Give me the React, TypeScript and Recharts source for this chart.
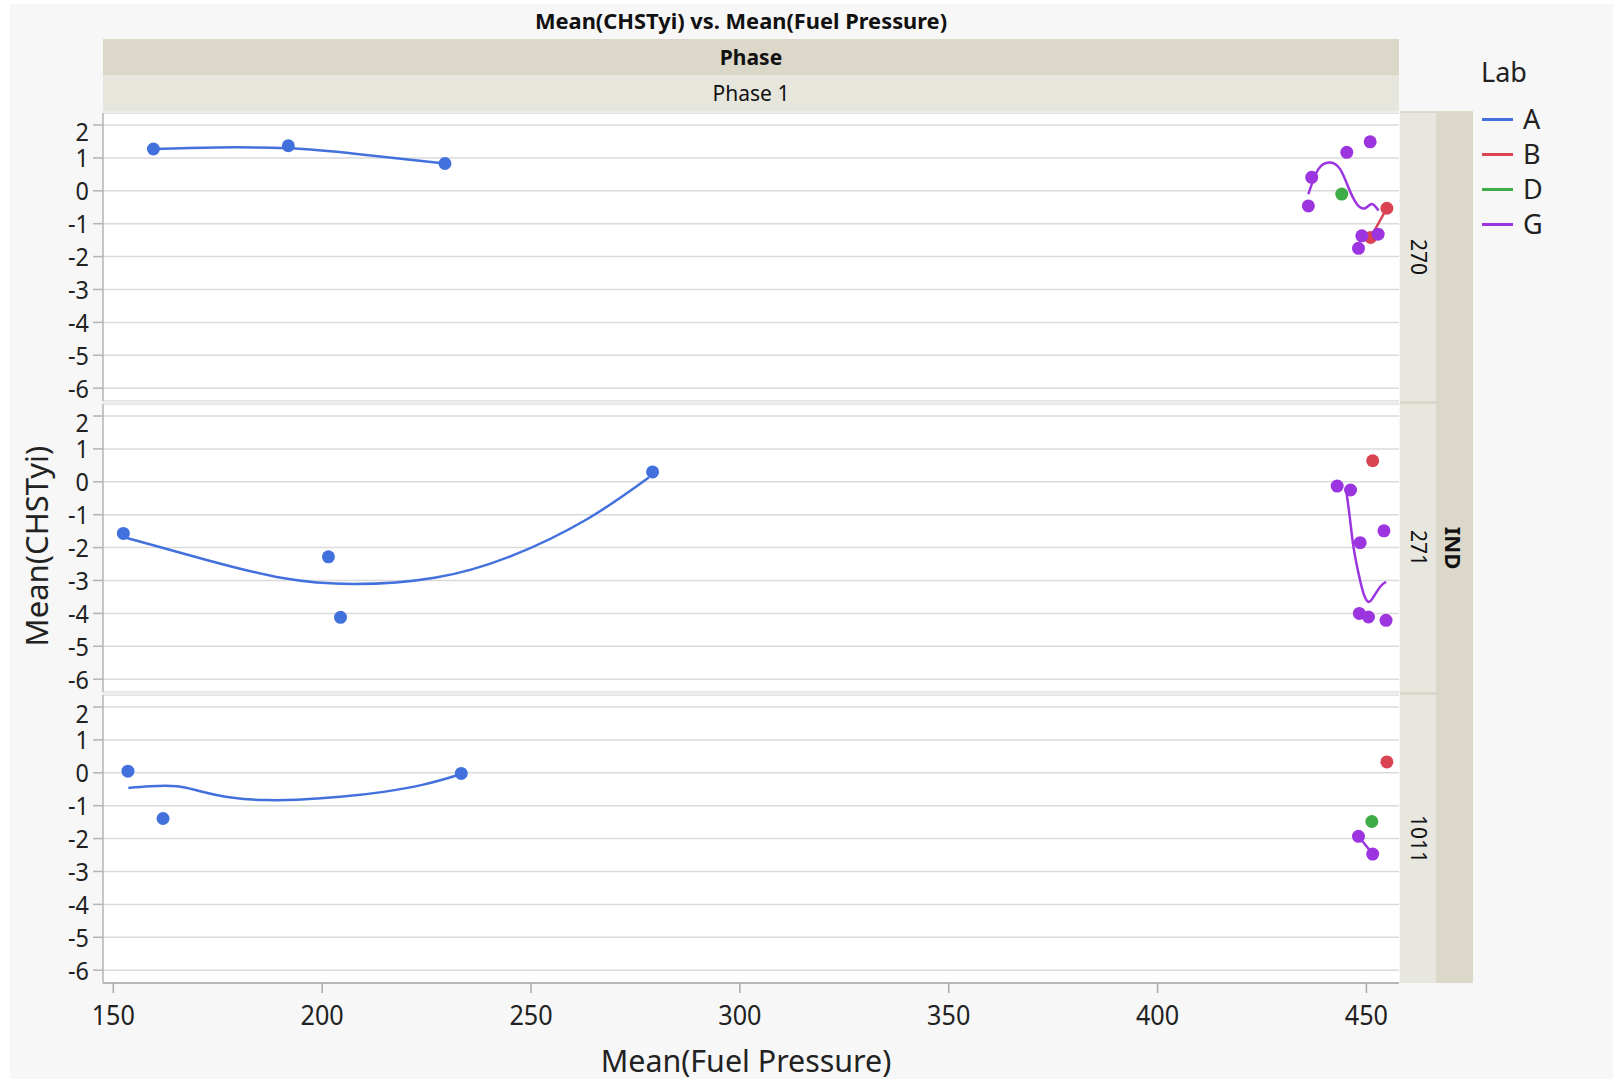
import React from 'react';
import { ComposedChart, Line, Scatter, XAxis, YAxis, CartesianGrid } from 'recharts';

type Pt = { x: number; y: number };

const FONT = "'Noto Sans', 'Open Sans', sans-serif";

const labs = ['A', 'B', 'D', 'G'];
const labColors: Record<string, string> = {
  A: '#4270dd',
  B: '#da4452',
  D: '#3eac47',
  G: '#9c34df',
};

const xTicks = [150, 200, 250, 300, 350, 400, 450];
const yTicks = [-6, -5, -4, -3, -2, -1, 0, 1, 2];
const xDomain: [number, number] = [147.53, 457.8];
const yDomain: [number, number] = [-6.39, 2.365];

const indLevels = ['270', '271', '1011'];

// IND 270
const ind270A: Pt[] = [{ x: 159.6, y: 1.27 }, { x: 191.9, y: 1.37 }, { x: 229.4, y: 0.83 }];
const ind270B: Pt[] = [{ x: 451.0, y: -1.42 }, { x: 454.9, y: -0.53 }];
const ind270D: Pt[] = [{ x: 444.1, y: -0.1 }];
const ind270G: Pt[] = [
  { x: 436.1, y: -0.46 }, { x: 436.9, y: 0.41 }, { x: 445.3, y: 1.17 }, { x: 450.9, y: 1.49 },
  { x: 448.9, y: -1.37 }, { x: 448.1, y: -1.75 }, { x: 452.8, y: -1.32 },
];
const ind270ASmooth: Pt[] = [
  { x: 159.6, y: 1.27 }, { x: 174.8, y: 1.32 }, { x: 191.9, y: 1.29 }, { x: 208.3, y: 1.12 }, { x: 229.4, y: 0.83 },
];
const ind270GSmooth: Pt[] = [
  { x: 436.1, y: -0.1 }, { x: 438.5, y: 0.66 }, { x: 441.3, y: 0.86 }, { x: 443.7, y: 0.66 }, { x: 445.7, y: 0.1 },
  { x: 447.7, y: -0.4 }, { x: 449.7, y: -0.53 }, { x: 451.3, y: -0.4 }, { x: 452.9, y: -0.6 },
];

// IND 271
const ind271A: Pt[] = [{ x: 152.4, y: -1.57 }, { x: 201.5, y: -2.28 }, { x: 204.4, y: -4.12 }, { x: 279.1, y: 0.3 }];
const ind271B: Pt[] = [{ x: 451.5, y: 0.64 }];
const ind271G: Pt[] = [
  { x: 443.0, y: -0.13 }, { x: 446.2, y: -0.25 }, { x: 448.5, y: -1.85 }, { x: 454.2, y: -1.49 },
  { x: 448.3, y: -4.0 }, { x: 450.5, y: -4.11 }, { x: 454.7, y: -4.21 },
];
const ind271ASmooth: Pt[] = [
  { x: 152.4, y: -1.68 }, { x: 171.9, y: -2.36 }, { x: 190.2, y: -2.92 }, { x: 207.6, y: -3.11 },
  { x: 226.9, y: -2.92 }, { x: 245.2, y: -2.26 }, { x: 263.5, y: -1.13 }, { x: 278.2, y: 0.13 },
];
const ind271GSmooth: Pt[] = [
  { x: 445.2, y: -0.3 }, { x: 446.0, y: -1.06 }, { x: 446.9, y: -1.98 }, { x: 448.1, y: -2.78 }, { x: 449.3, y: -3.39 },
  { x: 450.5, y: -3.65 }, { x: 451.7, y: -3.5 }, { x: 453.3, y: -3.19 }, { x: 454.7, y: -3.04 },
];

// IND 1011
const ind1011A: Pt[] = [{ x: 153.5, y: 0.05 }, { x: 161.9, y: -1.39 }, { x: 233.3, y: -0.02 }];
const ind1011B: Pt[] = [{ x: 454.9, y: 0.33 }];
const ind1011D: Pt[] = [{ x: 451.3, y: -1.48 }];
const ind1011G: Pt[] = [{ x: 448.1, y: -1.93 }, { x: 451.5, y: -2.47 }];
const ind1011ASmooth: Pt[] = [
  { x: 153.6, y: -0.46 }, { x: 158.8, y: -0.41 }, { x: 165.2, y: -0.41 }, { x: 170.8, y: -0.56 },
  { x: 178.7, y: -0.76 }, { x: 186.7, y: -0.83 }, { x: 193.9, y: -0.82 }, { x: 204.3, y: -0.73 },
  { x: 214.7, y: -0.58 }, { x: 224.2, y: -0.36 }, { x: 233.0, y: -0.05 },
];

type Series = { lab: string; data: Pt[] };
type Curve = { lab: string; data: Pt[]; type: 'natural' | 'linear' };

const panels: { points: Series[]; curves: Curve[] }[] = [
  {
    points: [
      { lab: 'A', data: ind270A }, { lab: 'B', data: ind270B }, { lab: 'D', data: ind270D }, { lab: 'G', data: ind270G },
    ],
    curves: [
      { lab: 'A', data: ind270ASmooth, type: 'natural' },
      { lab: 'B', data: ind270B, type: 'linear' },
      { lab: 'G', data: ind270GSmooth, type: 'natural' },
    ],
  },
  {
    points: [{ lab: 'A', data: ind271A }, { lab: 'B', data: ind271B }, { lab: 'G', data: ind271G }],
    curves: [
      { lab: 'A', data: ind271ASmooth, type: 'natural' },
      { lab: 'G', data: ind271GSmooth, type: 'natural' },
    ],
  },
  {
    points: [
      { lab: 'A', data: ind1011A }, { lab: 'B', data: ind1011B }, { lab: 'D', data: ind1011D }, { lab: 'G', data: ind1011G },
    ],
    curves: [
      { lab: 'A', data: ind1011ASmooth, type: 'natural' },
      { lab: 'G', data: ind1011G, type: 'linear' },
    ],
  },
];

// layout
const PLOT_LEFT = 103;
const PLOT_RIGHT = 1399;
const PANEL_H = 288;
const panelTops = [113, 404, 695];
const X_AXIS_H = 50;

const YTick = (props: any) => {
  const { x, y, payload } = props;
  const shift = payload.value === 2 ? 7 : 0;
  return (
    <g transform={`translate(${x},${y + shift})`}>
      <text transform="scale(0.9,1)" textAnchor="end" dy="0.36em" fontSize={26} fill="#222" fontFamily={FONT}>
        {payload.value}
      </text>
    </g>
  );
};

const XTick = (props: any) => {
  const { x, y, payload } = props;
  return (
    <g transform={`translate(${x},${y})`}>
      <text transform="scale(0.9,1)" textAnchor="middle" dy={32} fontSize={28} fill="#222" fontFamily={FONT}>
        {payload.value}
      </text>
    </g>
  );
};

const Label = ({ cx, cy, size, weight = 400, rotate = 0, sx = 1, color = '#111', children }: any) => (
  <div
    style={{
      position: 'absolute',
      left: cx,
      top: cy,
      transform: `translate(-50%, -50%) rotate(${rotate}deg) scaleX(${sx})`,
      fontFamily: FONT,
      fontSize: size,
      fontWeight: weight,
      lineHeight: 1,
      whiteSpace: 'nowrap',
      color,
    }}
  >
    {children}
  </div>
);

const Panel = ({ index }: { index: number }) => {
  const { points, curves } = panels[index];
  const showX = index === panels.length - 1;
  return (
    <div style={{ position: 'absolute', left: 0, top: panelTops[index] }}>
      <ComposedChart
        width={PLOT_RIGHT}
        height={PANEL_H + (showX ? X_AXIS_H : 0)}
        margin={{ top: 0, right: 0, bottom: 0, left: 0 }}
        style={{ overflow: 'visible' }}
      >
        <CartesianGrid vertical={false} stroke="#dadada" strokeWidth={1.5} />
        <XAxis
          type="number"
          dataKey="x"
          domain={xDomain}
          ticks={xTicks}
          allowDataOverflow
          hide={!showX}
          height={X_AXIS_H}
          tickSize={10}
          tickMargin={0}
          axisLine={{ stroke: '#a8a8a8', strokeWidth: 1.5 }}
          tickLine={{ stroke: '#a8a8a8', strokeWidth: 1.5 }}
          tick={<XTick />}
        />
        <YAxis
          type="number"
          dataKey="y"
          domain={yDomain}
          ticks={yTicks}
          allowDataOverflow
          width={PLOT_LEFT}
          tickSize={10}
          tickMargin={4}
          axisLine={{ stroke: '#b4b4b4', strokeWidth: 1.5 }}
          tickLine={{ stroke: '#b4b4b4', strokeWidth: 1.5 }}
          tick={<YTick />}
        />
        {curves.map((c, i) => (
          <Line
            key={`c${i}`}
            data={c.data}
            dataKey="y"
            type={c.type}
            stroke={labColors[c.lab]}
            strokeWidth={2.5}
            dot={false}
            activeDot={false}
            isAnimationActive={false}
          />
        ))}
        {points.map((s, i) => (
          <Scatter
            key={`p${i}`}
            data={s.data}
            dataKey="y"
            isAnimationActive={false}
            shape={(p: any) => <circle cx={p.cx} cy={p.cy} r={6.5} fill={labColors[s.lab]} />}
          />
        ))}
      </ComposedChart>
    </div>
  );
};

export default function App() {
  return (
    <div style={{ position: 'absolute', left: 0, top: 0, width: 1613, height: 1079, background: '#fff', overflow: 'hidden' }}>
      <div style={{ position: 'absolute', left: 10, top: 4, right: 0, bottom: 0, background: '#f7f7f7' }} />

      {/* title */}
      <Label cx={741} cy={21} size={21} weight={700} sx={1.04}>
        Mean(CHSTyi) vs. Mean(Fuel Pressure)
      </Label>

      {/* Phase header */}
      <div style={{ position: 'absolute', left: PLOT_LEFT, top: 39, width: PLOT_RIGHT - PLOT_LEFT, height: 36, background: '#dbd8c9' }} />
      <div style={{ position: 'absolute', left: PLOT_LEFT, top: 75, width: PLOT_RIGHT - PLOT_LEFT, height: 36, background: '#e7e6dd' }} />
      <Label cx={751} cy={57} size={21} weight={700}>Phase</Label>
      <Label cx={751} cy={93} size={21}>Phase 1</Label>

      {/* plot backgrounds */}
      <div style={{ position: 'absolute', left: PLOT_LEFT, top: 111, width: PLOT_RIGHT - PLOT_LEFT, height: 872, background: '#ececec' }} />
      {panelTops.map((t) => (
        <div key={t} style={{ position: 'absolute', left: PLOT_LEFT, top: t, width: PLOT_RIGHT - PLOT_LEFT, height: PANEL_H, background: '#fff' }} />
      ))}

      {/* IND strips */}
      <div style={{ position: 'absolute', left: 1436, top: 111, width: 37, height: 872, background: '#dbd8c9' }} />
      <div style={{ position: 'absolute', left: 1400, top: 111, width: 36, height: 872, background: '#dad8cc' }} />
      {panelTops.map((t, i) => (
        <React.Fragment key={t}>
          <div style={{ position: 'absolute', left: 1400, top: t, width: 36, height: PANEL_H, background: '#e8e7df' }} />
          <Label cx={1418} cy={t + PANEL_H / 2} size={21} rotate={90}>{indLevels[i]}</Label>
        </React.Fragment>
      ))}
      <Label cx={1454} cy={548} size={22} weight={700} rotate={90}>IND</Label>

      {panels.map((_, i) => (
        <Panel key={i} index={i} />
      ))}

      {/* axis titles */}
      <Label cx={746} cy={1060} size={31} sx={0.98} color="#222">Mean(Fuel Pressure)</Label>
      <Label cx={36} cy={546} size={31} rotate={-90} color="#222">Mean(CHSTyi)</Label>

      {/* legend */}
      <div style={{ position: 'absolute', left: 1481, top: 57, fontFamily: FONT, fontSize: 27, lineHeight: '30px', color: '#222' }}>Lab</div>
      {labs.map((lab, i) => (
        <React.Fragment key={lab}>
          <div style={{ position: 'absolute', left: 1482, top: 118 + i * 35, width: 31, height: 3, background: labColors[lab] }} />
          <div style={{ position: 'absolute', left: 1523, top: 104 + i * 35, fontFamily: FONT, fontSize: 27, lineHeight: '30px', color: '#222' }}>
            {lab}
          </div>
        </React.Fragment>
      ))}
    </div>
  );
}
